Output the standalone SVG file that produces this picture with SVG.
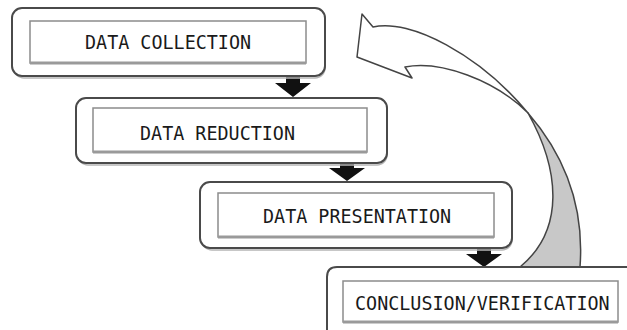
<svg xmlns="http://www.w3.org/2000/svg" width="627" height="330" viewBox="0 0 627 330">
<style>
.outer{fill:#fff;stroke:#4a4a4a;stroke-width:2}
.shadow{fill:none;stroke:#b5b5b5;stroke-width:1.5}
.inner{fill:#fff;stroke:#8c8c8c;stroke-width:1.5}
.innerb{stroke:#9a9a9a;stroke-width:3}
.lbl{font-family:"DejaVu Sans Mono",monospace;font-size:18.4px;fill:#1a1a1a}
.down{fill:#111}
.ribbon{stroke:#444;stroke-width:1.5;stroke-linejoin:round}
</style>
<rect width="627" height="330" fill="#fff"/>
<g id="connectors">
<polygon class="down" points="286,76 300,76 300,83 311,83 293,97 275,83 286,83"/>
<polygon class="down" points="340,163 354,163 354,168 365,168 347,181 329,168 340,168"/>
<polygon class="down" points="477,248 491,248 491,254 502,254 484,267 466,254 477,254"/>
<path id="feedback" class="ribbon" fill="#fff" d="M 373 27 L 362 14 L 357 57 L 412 78 L 405 67 C 440 60 495 80 528 113 C 480 55 410 18 373 27 Z"/>
<path class="ribbon" fill="#c8c8c8" d="M 528 113 C 560 150 585 200 580 267 L 520 267 C 565 230 560 170 528 113 Z"/>
</g>
<g id="collection">
<rect class="shadow" x="14" y="10" width="311" height="68" rx="10"/>
<rect class="outer" x="12" y="8" width="313" height="68" rx="10"/>
<rect class="inner" x="30" y="21" width="276" height="42"/>
<line class="innerb" x1="30" y1="63" x2="306" y2="63"/>
<text class="lbl" transform="translate(85,49) scale(1,1.1)">DATA COLLECTION</text>
</g>
<g id="reduction">
<rect class="shadow" x="78" y="100" width="309" height="65" rx="10"/>
<rect class="outer" x="76" y="98" width="311" height="65" rx="10"/>
<rect class="inner" x="93" y="108" width="274" height="44"/>
<line class="innerb" x1="93" y1="152" x2="367" y2="152"/>
<text class="lbl" transform="translate(140,140) scale(1,1.1)">DATA REDUCTION</text>
</g>
<g id="presentation">
<rect class="shadow" x="202" y="184" width="310" height="66" rx="10"/>
<rect class="outer" x="200" y="182" width="312" height="66" rx="10"/>
<rect class="inner" x="218" y="193" width="276" height="44"/>
<line class="innerb" x1="218" y1="237" x2="494" y2="237"/>
<text class="lbl" transform="translate(263,223) scale(1,1.1)">DATA PRESENTATION</text>
</g>
<g id="conclusion">
<rect x="328" y="268" width="299" height="62" fill="#fff"/>
<path d="M 327 330 L 327 277 Q 327 267 337 267 L 627 267" fill="none" stroke="#4a4a4a" stroke-width="2"/>
<rect class="inner" x="343" y="281" width="275" height="41"/>
<line class="innerb" x1="343" y1="322" x2="618" y2="322"/>
<text class="lbl" transform="translate(355,310) scale(1,1.1)">CONCLUSION/VERIFICATION</text>
</g>
</svg>
